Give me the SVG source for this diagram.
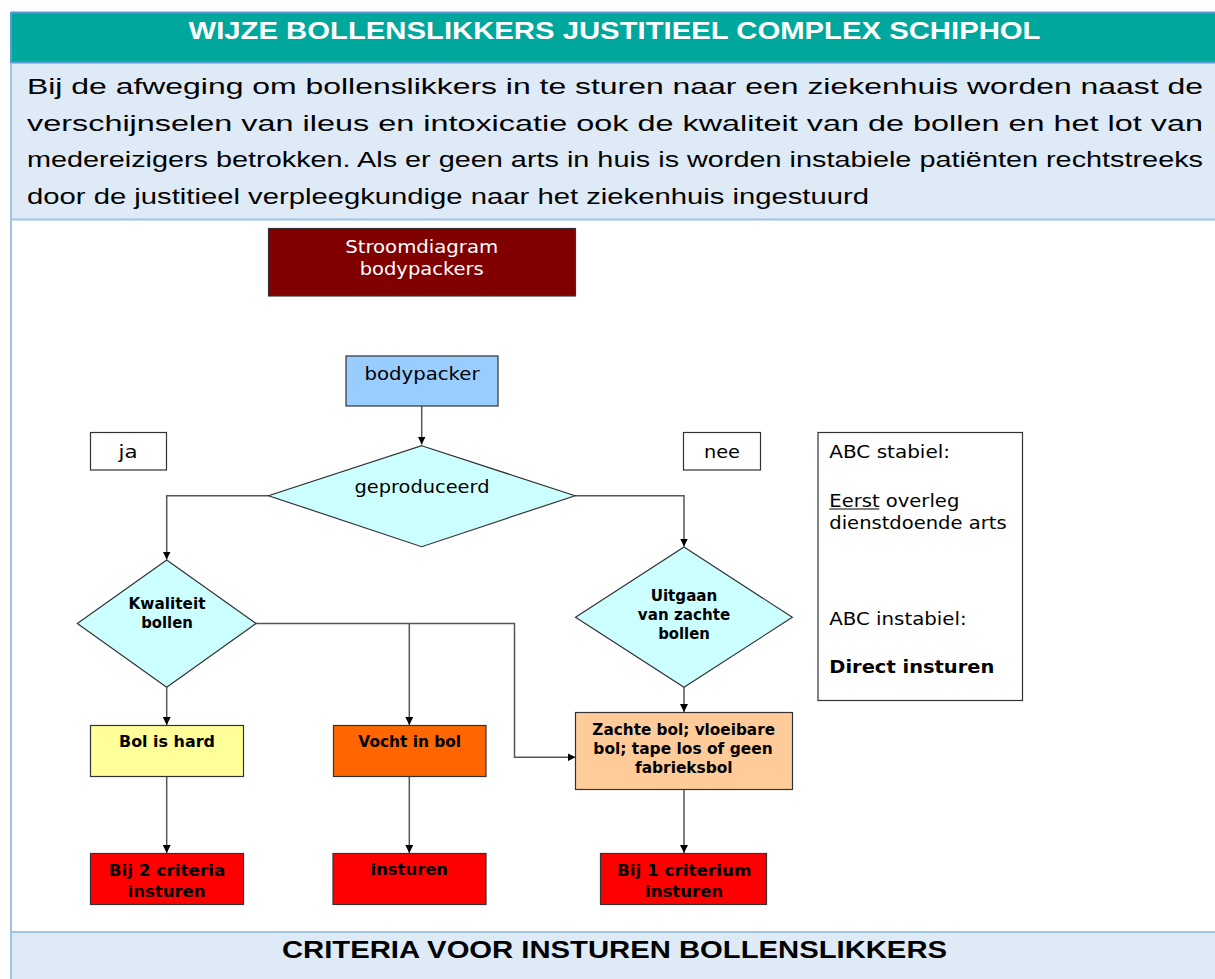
<svg xmlns="http://www.w3.org/2000/svg" width="1215" height="979" viewBox="0 0 1215 979">
<defs>
<style>
.hdr{font-family:"Liberation Sans",Arial,sans-serif;font-weight:bold;font-size:23.5px;fill:#fff}
.body{font-family:"Liberation Sans",Arial,sans-serif;font-size:22.5px;fill:#000}
.foot{font-family:"Liberation Sans",Arial,sans-serif;font-weight:bold;font-size:24.5px;fill:#000}
.fc{font-family:"DejaVu Sans",Verdana,sans-serif;font-size:18px;fill:#000;text-anchor:middle}
.fcw{font-family:"DejaVu Sans",Verdana,sans-serif;font-size:18px;fill:#fff;text-anchor:middle}
.fb{font-family:"DejaVu Sans",Verdana,sans-serif;font-size:15.5px;font-weight:bold;fill:#000;text-anchor:middle}
.side{font-family:"DejaVu Sans",Verdana,sans-serif;font-size:17.5px;fill:#000}
.box{stroke:#333;stroke-width:1.2}
.conn{fill:none;stroke:#555;stroke-width:1.5}
</style>
<marker id="arr" viewBox="0 0 10 10" refX="10" refY="5" markerWidth="8" markerHeight="8" markerUnits="userSpaceOnUse" orient="auto">
<path d="M0,0 L10,5 L0,10 z" fill="#000"/>
</marker>
</defs>
<rect x="0" y="0" width="1215" height="979" fill="#fff"/>
<g id="table">
<rect x="11" y="12" width="1210" height="51" fill="#00A79D"/>
<rect x="11" y="63" width="1210" height="156" fill="#DEEAF6"/>
<rect x="11" y="932" width="1210" height="50" fill="#DEEAF6"/>
<line x1="11" y1="12.5" x2="1215" y2="12.5" stroke="#5B9BD5" stroke-width="2"/>
<line x1="11" y1="62.5" x2="1215" y2="62.5" stroke="#5B9BD5" stroke-width="2"/>
<line x1="11" y1="219.5" x2="1215" y2="219.5" stroke="#9DC3E6" stroke-width="2"/>
<line x1="11" y1="932" x2="1215" y2="932" stroke="#9DC3E6" stroke-width="2"/>
<line x1="11" y1="12" x2="11" y2="979" stroke="#9DC3E6" stroke-width="2"/>
<line x1="11" y1="12" x2="11" y2="63" stroke="#5B9BD5" stroke-width="2"/>
<text class="hdr" x="188.5" y="38.5" textLength="852" lengthAdjust="spacingAndGlyphs">WIJZE BOLLENSLIKKERS JUSTITIEEL COMPLEX SCHIPHOL</text>
<text class="body" x="27" y="94" textLength="1176" lengthAdjust="spacingAndGlyphs">Bij de afweging om bollenslikkers in te sturen naar een ziekenhuis worden naast de</text>
<text class="body" x="27" y="130.5" textLength="1176" lengthAdjust="spacingAndGlyphs">verschijnselen van ileus en intoxicatie ook de kwaliteit van de bollen en het lot van</text>
<text class="body" x="27" y="167" textLength="1176" lengthAdjust="spacingAndGlyphs">medereizigers betrokken. Als er geen arts in huis is worden instabiele patiënten rechtstreeks</text>
<text class="body" x="27" y="203.5" textLength="842" lengthAdjust="spacingAndGlyphs">door de justitieel verpleegkundige naar het ziekenhuis ingestuurd</text>
<text class="foot" x="282" y="958" textLength="665" lengthAdjust="spacingAndGlyphs">CRITERIA VOOR INSTUREN BOLLENSLIKKERS</text>
</g>
<g id="connectors">
<path class="conn" d="M421.7,406 V444.5" marker-end="url(#arr)"/>
<path class="conn" d="M268.5,495.7 H166.7 V559.5" marker-end="url(#arr)"/>
<path class="conn" d="M575,495.7 H684 V546.5" marker-end="url(#arr)"/>
<path class="conn" d="M166.7,687.3 V725" marker-end="url(#arr)"/>
<path class="conn" d="M256,623.5 H514.5 V757.3 H575.5" marker-end="url(#arr)"/>
<path class="conn" d="M409.3,623.5 V725" marker-end="url(#arr)"/>
<path class="conn" d="M684,687.3 V712" marker-end="url(#arr)"/>
<path class="conn" d="M166.7,776.7 V853" marker-end="url(#arr)"/>
<path class="conn" d="M409.3,776.7 V853" marker-end="url(#arr)"/>
<path class="conn" d="M684,789.3 V853" marker-end="url(#arr)"/>
</g>
<g id="title">
<rect class="box" x="268.5" y="228.5" width="307" height="67.5" fill="#800000"/>
<text class="fcw" x="421.7" y="253" textLength="153" lengthAdjust="spacingAndGlyphs">Stroomdiagram</text>
<text class="fcw" x="421.7" y="275" textLength="124" lengthAdjust="spacingAndGlyphs">bodypackers</text>
</g>
<g id="bodypacker">
<rect class="box" x="346" y="356" width="152" height="50" fill="#99CCFF"/>
<text class="fc" x="422" y="380" textLength="115" lengthAdjust="spacingAndGlyphs">bodypacker</text>
</g>
<g id="geproduceerd">
<polygon class="box" points="421.7,445.7 575,495.7 421.7,546.7 268.5,495.7" fill="#CCFFFF"/>
<text class="fc" x="422" y="493" textLength="135" lengthAdjust="spacingAndGlyphs">geproduceerd</text>
</g>
<g id="ja">
<rect class="box" x="90.5" y="432.5" width="76" height="37.5" fill="#fff"/>
<text class="fc" x="128" y="457.5" textLength="19" lengthAdjust="spacingAndGlyphs">ja</text>
</g>
<g id="nee">
<rect class="box" x="683.5" y="432.5" width="77" height="37.5" fill="#fff"/>
<text class="fc" x="722" y="457.5" textLength="36" lengthAdjust="spacingAndGlyphs">nee</text>
</g>
<g id="kwaliteit">
<polygon class="box" points="166.7,560 256,623.5 166.7,687.3 77.3,623.5" fill="#CCFFFF"/>
<text class="fb" x="167" y="609" textLength="77" lengthAdjust="spacingAndGlyphs">Kwaliteit</text>
<text class="fb" x="167" y="628.3" textLength="51.7" lengthAdjust="spacingAndGlyphs">bollen</text>
</g>
<g id="uitgaan">
<polygon class="box" points="684,547 792.3,617.3 684,687.3 575.5,617.3" fill="#CCFFFF"/>
<text class="fb" x="684" y="600.5" textLength="66.7" lengthAdjust="spacingAndGlyphs">Uitgaan</text>
<text class="fb" x="684" y="619.8" textLength="92.3" lengthAdjust="spacingAndGlyphs">van zachte</text>
<text class="fb" x="684" y="638.8" textLength="51.7" lengthAdjust="spacingAndGlyphs">bollen</text>
</g>
<g id="abc">
<rect class="box" x="818" y="432.5" width="204.5" height="268" fill="#fff"/>
<text class="side" x="829.3" y="457.7" textLength="120.7" lengthAdjust="spacingAndGlyphs">ABC stabiel:</text>
<text class="side" x="829.3" y="506.7" textLength="130" lengthAdjust="spacingAndGlyphs">Eerst overleg</text>
<line x1="829.3" y1="509" x2="879.3" y2="509" stroke="#000" stroke-width="1.2"/>
<text class="side" x="829.3" y="529.3" textLength="177.3" lengthAdjust="spacingAndGlyphs">dienstdoende arts</text>
<text class="side" x="829.3" y="625" textLength="137.3" lengthAdjust="spacingAndGlyphs">ABC instabiel:</text>
<text class="side" x="829.3" y="673.3" font-weight="bold" textLength="165" lengthAdjust="spacingAndGlyphs">Direct insturen</text>
</g>
<g id="bolhard">
<rect class="box" x="90.5" y="725.5" width="153" height="51" fill="#FFFF99"/>
<text class="fb" x="167" y="747.3" textLength="96" lengthAdjust="spacingAndGlyphs">Bol is hard</text>
</g>
<g id="vocht">
<rect class="box" x="333.5" y="725.5" width="152.5" height="51" fill="#FF6600"/>
<text class="fb" x="409.7" y="746.7" textLength="102.7" lengthAdjust="spacingAndGlyphs">Vocht in bol</text>
</g>
<g id="zachte">
<rect class="box" x="575.5" y="712.5" width="217" height="77" fill="#FFCC99"/>
<text class="fb" x="683.7" y="735" textLength="182.7" lengthAdjust="spacingAndGlyphs">Zachte bol; vloeibare</text>
<text class="fb" x="683" y="754" textLength="179.3" lengthAdjust="spacingAndGlyphs">bol; tape los of geen</text>
<text class="fb" x="683.8" y="772.7" textLength="97.7" lengthAdjust="spacingAndGlyphs">fabrieksbol</text>
</g>
<g id="bij2">
<rect class="box" x="90.5" y="853.5" width="153" height="51" fill="#FF0000"/>
<text class="fb" x="167" y="876" textLength="116.6" lengthAdjust="spacingAndGlyphs">Bij 2 criteria</text>
<text class="fb" x="166.5" y="896.7" textLength="78" lengthAdjust="spacingAndGlyphs">insturen</text>
</g>
<g id="insturen">
<rect class="box" x="333" y="853.5" width="153" height="51" fill="#FF0000"/>
<text class="fb" x="409.3" y="875" textLength="77.5" lengthAdjust="spacingAndGlyphs">insturen</text>
</g>
<g id="bij1">
<rect class="box" x="600.5" y="853.5" width="166" height="51" fill="#FF0000"/>
<text class="fb" x="684.2" y="876" textLength="134.5" lengthAdjust="spacingAndGlyphs">Bij 1 criterium</text>
<text class="fb" x="684.1" y="896.7" textLength="78" lengthAdjust="spacingAndGlyphs">insturen</text>
</g>
</svg>
